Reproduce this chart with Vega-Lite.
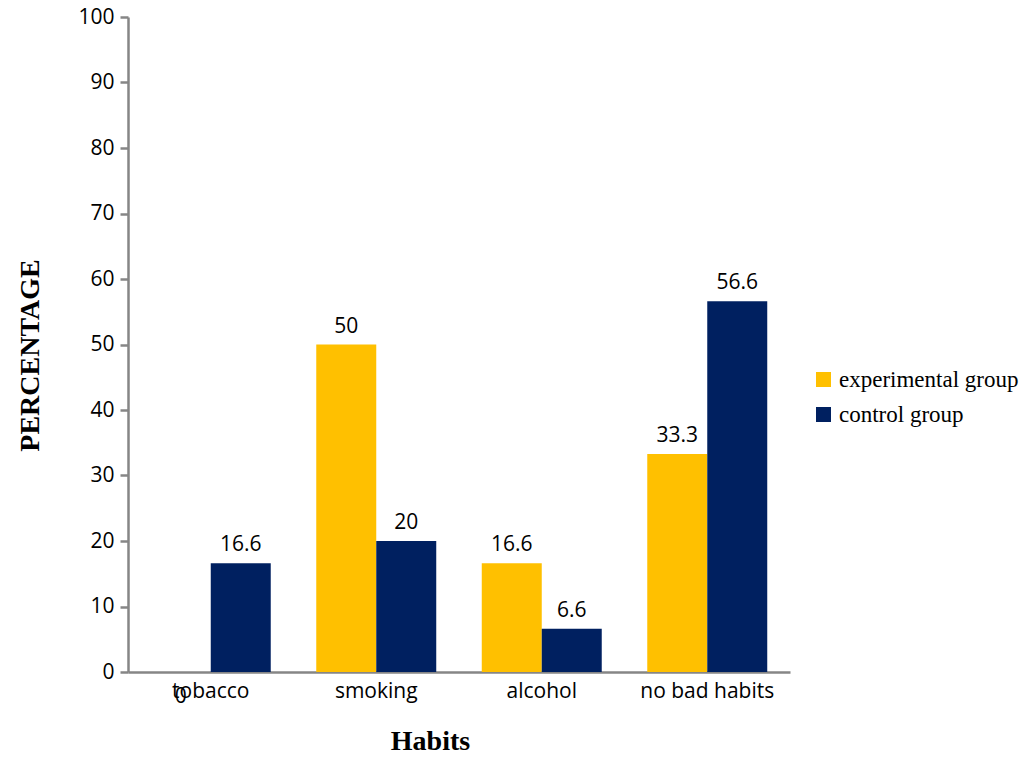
{
  "$schema": "https://vega.github.io/schema/vega-lite/v6.json",
  "width": 662,
  "height": 655,
  "autosize": {"type": "none"},
  "padding": {"left": 128, "top": 17, "right": 246, "bottom": 98},
  "background": "white",
  "config": {"view": {"stroke": null}},
  "data": {
    "values": [
      {"habit": "tobacco", "group": "experimental group", "value": 0},
      {"habit": "tobacco", "group": "control group", "value": 16.6},
      {"habit": "smoking", "group": "experimental group", "value": 50},
      {"habit": "smoking", "group": "control group", "value": 20},
      {"habit": "alcohol", "group": "experimental group", "value": 16.6},
      {"habit": "alcohol", "group": "control group", "value": 6.6},
      {"habit": "no bad habits", "group": "experimental group", "value": 33.3},
      {"habit": "no bad habits", "group": "control group", "value": 56.6}
    ]
  },
  "encoding": {
    "x": {
      "field": "habit",
      "type": "nominal",
      "sort": ["tobacco", "smoking", "alcohol", "no bad habits"],
      "scale": {"paddingInner": 0.275, "paddingOuter": 0.1375},
      "axis": {
        "title": "Habits",
        "titleFont": "Liberation Serif",
        "titleFontSize": 28,
        "titleFontWeight": "bold",
        "titleColor": "black",
        "titleX": 302,
        "titlePadding": 26,
        "labelAngle": 0,
        "labelFont": "Open Sans",
        "labelFontSize": 21,
        "labelColor": "black",
        "labelPadding": 8,
        "ticks": false,
        "domainColor": "#868686",
        "domainWidth": 2.5
      }
    },
    "xOffset": {
      "field": "group",
      "type": "nominal",
      "sort": ["experimental group", "control group"]
    },
    "y": {
      "field": "value",
      "type": "quantitative",
      "scale": {"domain": [0, 100]},
      "axis": {
        "title": "PERCENTAGE",
        "titleFont": "Liberation Serif",
        "titleFontSize": 28,
        "titleFontWeight": "bold",
        "titleColor": "black",
        "titleX": -98,
        "titleY": 338,
        "titleBaseline": "middle",
        "titleAlign": "center",
        "values": [0, 10, 20, 30, 40, 50, 60, 70, 80, 90, 100],
        "grid": false,
        "labelFont": "Open Sans",
        "labelFontSize": 21,
        "labelColor": "black",
        "labelPadding": 6,
        "tickSize": 8,
        "tickColor": "#868686",
        "tickWidth": 2.5,
        "domainColor": "#868686",
        "domainWidth": 2.5
      }
    }
  },
  "layer": [
    {
      "mark": {"type": "bar"},
      "encoding": {
        "color": {
          "field": "group",
          "type": "nominal",
          "sort": ["experimental group", "control group"],
          "scale": {"domain": ["experimental group", "control group"], "range": ["#FFC000", "#002060"]},
          "legend": {
            "title": null,
            "orient": "none",
            "legendX": 684,
            "legendY": 351,
            "symbolType": "square",
            "symbolSize": 225,
            "symbolStrokeWidth": 0,
            "labelFont": "Liberation Serif",
            "labelFontSize": 23,
            "labelLimit": 400,
            "labelColor": "black",
            "rowPadding": 11,
            "labelOffset": 4
          }
        }
      }
    },
    {
      "transform": [{"filter": "datum.value > 0"}],
      "mark": {"type": "text", "baseline": "bottom", "dy": -8, "font": "Open Sans", "fontSize": 21, "color": "black"},
      "encoding": {"text": {"field": "value", "type": "quantitative"}}
    },
    {
      "transform": [{"filter": "datum.value == 0"}],
      "mark": {"type": "text", "baseline": "middle", "dy": 25, "font": "Open Sans", "fontSize": 21, "color": "black"},
      "encoding": {"text": {"field": "value", "type": "quantitative"}}
    }
  ]
}
